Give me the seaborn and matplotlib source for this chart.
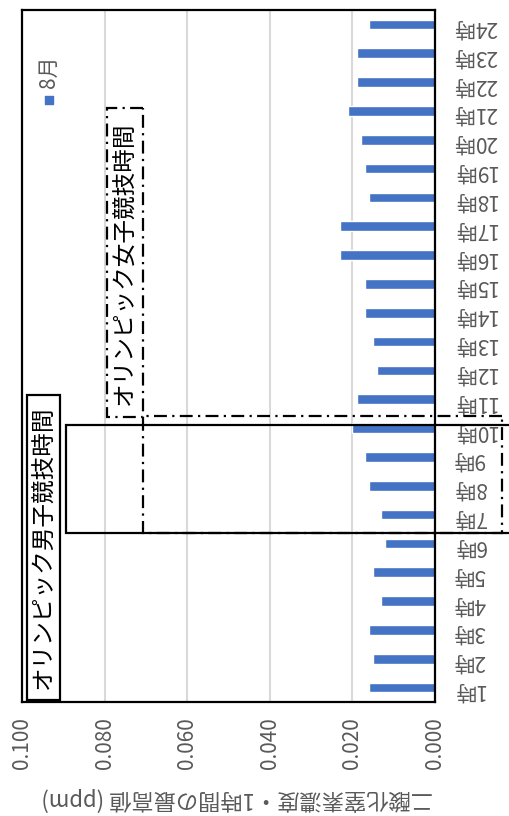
import numpy as np
import pandas as pd
import matplotlib
matplotlib.use("Agg")
import matplotlib.pyplot as plt
import seaborn as sns
from matplotlib.patches import Rectangle

# Data (hourly max NO2, August)

hours = ["1時", "2時", "3時", "4時", "5時", "6時", "7時", "8時", "9時", "10時",
         "11時", "12時", "13時", "14時", "15時", "16時", "17時", "18時", "19時", "20時",
         "21時", "22時", "23時", "24時"]
no2_aug = [0.016, 0.015, 0.016, 0.013, 0.015, 0.012, 0.013, 0.016, 0.017, 0.020,
           0.019, 0.014, 0.015, 0.017, 0.017, 0.023, 0.023, 0.016, 0.017, 0.018,
           0.021, 0.019, 0.019, 0.016]
value_ticks = [0.0, 0.02, 0.04, 0.06, 0.08, 0.1]
value_ticklabels = ["0.000", "0.020", "0.040", "0.060", "0.080", "0.100"]
series_name = "8月"
axis_title = "二酸化窒素濃度・1時間の最高値 (ppm)"
men_label = "オリンピック男子競技時間"
women_label = "オリンピック女子競技時間"

sns.set_style("white")
plt.rcParams["font.family"] = ["Noto Sans CJK JP", "DejaVu Sans"]

df = pd.DataFrame({"hour": hours, "value": no2_aug})

# Figure (chart drawn rotated by 90 degrees)

fig = plt.figure(figsize=(5.1, 8.16), dpi=100)
ax = fig.add_axes([22 / 510, 1 - 702 / 816, 413 / 510, 692 / 816])

sns.barplot(
    data=df,
    x="value",
    y="hour",
    order=hours[::-1],
    color="#4472C4",
    saturation=1,
    width=0.33,
    ax=ax
)

ax.set_xlim(0.1, 0)
ax.set_ylim(23.5, -0.5)
ax.set_xticks(value_ticks)
ax.set_xticklabels(value_ticklabels)
ax.set_xlabel("")
ax.set_ylabel("")
ax.xaxis.grid(True, color="#d9d9d9", lw=1.5)
ax.yaxis.grid(False)
ax.set_axisbelow(True)

ax.yaxis.tick_right()
ax.tick_params(axis="y", length=0, pad=13, labelrotation=180,
               labelsize=15, labelcolor="#595959")
ax.tick_params(axis="x", length=0, pad=11, labelrotation=90,
               labelsize=15, labelcolor="#595959")

for s in ax.spines.values():
    s.set_visible(True)
    s.set_color("black")
    s.set_linewidth(1.6)

fig.text(237 / 510, 1 - 799 / 816, axis_title, rotation=180,
         ha="center", va="center", fontsize=16, color="#595959")

# Legend (rotated)

ax.scatter([0.0935], [2.62], marker="s", s=30, color="#4472C4", clip_on=False)
ax.text(0.0935, 1.65, series_name, rotation=90, ha="center", va="center",
        fontsize=15, color="#595959")

# Olympic time annotations

dashdot = (0, (5.8, 2.4, 1, 2.4))

ax.add_patch(Rectangle((-0.03, 13.89), 0.0893 + 0.03, 17.64 - 13.89,
                       fill=False, edgecolor="black", lw=1.6, clip_on=False))
ax.add_patch(Rectangle((-0.0162, 13.58), 0.0708 + 0.0162, 17.64 - 13.58,
                       fill=False, edgecolor="black", lw=1.6, ls=dashdot,
                       clip_on=False))

ax.add_patch(Rectangle((0.0907, 12.85), 0.0080, 23.43 - 12.85,
                       fill=True, facecolor="white", edgecolor="black",
                       lw=1.6, clip_on=False, zorder=3))
ax.text(0.0947, 18.12, men_label, rotation=90, ha="center", va="center",
        fontsize=17, color="black", zorder=4)

ax.add_patch(Rectangle((0.0708, 2.90), 0.0085, 13.62 - 2.90,
                       fill=True, facecolor="white", edgecolor="black",
                       lw=1.6, ls=dashdot, clip_on=False, zorder=3))
ax.text(0.07505, 8.27, women_label, rotation=90, ha="center", va="center",
        fontsize=17, color="black", zorder=4)

plt.savefig("out.png", dpi=100)
